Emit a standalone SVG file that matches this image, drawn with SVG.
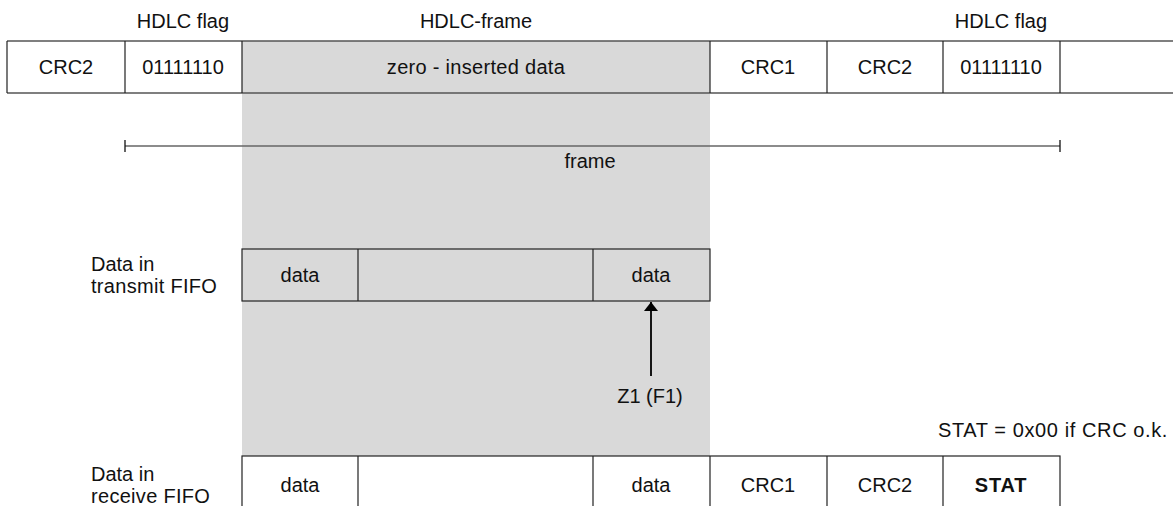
<svg xmlns="http://www.w3.org/2000/svg" width="1173" height="506" viewBox="0 0 1173 506">
<defs>
<style>
text{font-family:"Liberation Sans",Arial,sans-serif;font-size:20px;fill:#111}
.c{text-anchor:middle}
.b{font-weight:bold}
.cell{fill:none;stroke:#222;stroke-width:1.2}
.h{stroke:#555;stroke-width:1.5}
</style>
<marker id="ah" viewBox="0 0 10 10" refX="10" refY="5" markerWidth="9" markerHeight="14" markerUnits="userSpaceOnUse" orient="auto" preserveAspectRatio="none"><path d="M0,0L10,5L0,10z" fill="#000"/></marker>
</defs>
<rect x="0" y="0" width="1173" height="506" fill="#fff"/>
<rect id="shade" x="242" y="41" width="468" height="415" fill="#d9d9d9"/>
<g id="labels">
<text class="c" x="183" y="28">HDLC flag</text>
<text class="c" x="476" y="28">HDLC-frame</text>
<text class="c" x="1001" y="28">HDLC flag</text>
</g>
<g id="hdlc-row">
<line class="h" x1="7" y1="41" x2="1173" y2="41"/>
<line class="h" x1="7" y1="93" x2="1173" y2="93"/>
<path class="cell" d="M7,41V93M125,41V93M242,41V93M710,41V93M827,41V93M943,41V93M1060,41V93"/>
<text class="c" x="66" y="74">CRC2</text>
<text class="c" x="183" y="74">01111110</text>
<text class="c" x="476" y="74" letter-spacing="0.3">zero - inserted data</text>
<text class="c" x="768" y="74">CRC1</text>
<text class="c" x="885" y="74">CRC2</text>
<text class="c" x="1001" y="74">01111110</text>
</g>
<g id="frame">
<line x1="125" y1="146" x2="1060" y2="146" stroke="#666" stroke-width="1.5"/>
<line x1="125" y1="140" x2="125" y2="152" stroke="#111" stroke-width="1.3"/>
<line x1="1060" y1="140" x2="1060" y2="152" stroke="#111" stroke-width="1.3"/>
<text class="c" x="590" y="168">frame</text>
</g>
<g id="transmit-fifo">
<text x="91" y="271">Data in</text>
<text x="91" y="293" letter-spacing="0.3">transmit FIFO</text>
<rect class="cell" x="242" y="249" width="468" height="52"/>
<path class="cell" d="M358,249V301M593,249V301"/>
<text class="c" x="300" y="282">data</text>
<text class="c" x="651" y="282">data</text>
</g>
<g id="connectors">
<line x1="651" y1="376" x2="651" y2="302" stroke="#000" stroke-width="1.8" marker-end="url(#ah)"/>
</g>
<g id="z1">
<text class="c" x="650" y="403">Z1 (F1)</text>
</g>
<g id="stat-note">
<text x="1168" y="437" text-anchor="end" letter-spacing="0.6">STAT = 0x00 if CRC o.k.</text>
</g>
<g id="receive-fifo">
<text x="91" y="481">Data in</text>
<text x="91" y="503" letter-spacing="0.3">receive FIFO</text>
<rect class="cell" x="242" y="456" width="818" height="70"/>
<path class="cell" d="M358,456V526M593,456V526M710,456V526M827,456V526M943,456V526"/>
<text class="c" x="300" y="492">data</text>
<text class="c" x="651" y="492">data</text>
<text class="c" x="768" y="492">CRC1</text>
<text class="c" x="885" y="492">CRC2</text>
<text class="c b" x="1001" y="492" letter-spacing="0.8">STAT</text>
</g>
</svg>
